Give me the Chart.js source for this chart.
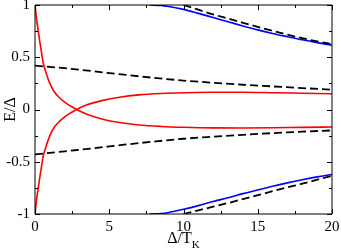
<!DOCTYPE html>
<html>
<head>
<meta charset="utf-8">
<script src="https://cdn.jsdelivr.net/npm/chart.js@4"></script>
<style>
  html, body { margin: 0; padding: 0; background: #fff; }
  #wrap { width: 341px; height: 252px; position: relative; }
</style>
</head>
<body>
<div id="wrap"><canvas id="chart" width="341" height="252"></canvas></div>
<script>
// tick labels
const xTicks = [0, 5, 10, 15, 20];
const yTicks = [-1, -0.5, 0, 0.5, 1];

// red curves (crossing near 2.8)
const redX = [0, 0.1, 0.2, 0.3, 0.4, 0.55, 0.75, 1.0, 1.3, 1.6, 2.0, 2.4, 2.8, 3.5, 4.5, 5.7, 7, 8.5, 10, 12, 14, 16, 18, 20];
const redDown = [1, 0.87, 0.77, 0.67, 0.58, 0.45, 0.35, 0.25, 0.17, 0.12, 0.07, 0.033, 0.0, -0.045, -0.09, -0.125, -0.148, -0.162, -0.17, -0.176, -0.177, -0.175, -0.171, -0.168];
const redUp = [-1, -0.87, -0.77, -0.67, -0.58, -0.45, -0.35, -0.25, -0.17, -0.12, -0.07, -0.033, 0.0, 0.045, 0.085, 0.118, 0.14, 0.153, 0.16, 0.165, 0.165, 0.161, 0.156, 0.151];

// inner dashed lines
const dashX = [0, 2, 4, 6, 8, 10, 12, 14, 16, 18, 20];
const dashUpper = [0.42, 0.395, 0.365, 0.333, 0.303, 0.277, 0.256, 0.237, 0.221, 0.205, 0.19];
const dashLower = [-0.43, -0.4, -0.37, -0.337, -0.307, -0.28, -0.26, -0.242, -0.226, -0.212, -0.2];

// blue curves
const blueX = [7.7, 8.5, 9, 10, 11, 12, 13, 14, 15, 16, 17, 18, 19, 20];
const blueUpper = [1.0, 0.995, 0.985, 0.958, 0.92, 0.88, 0.84, 0.8, 0.762, 0.728, 0.697, 0.667, 0.64, 0.615];
const blueLower = [-1.0, -0.995, -0.985, -0.955, -0.92, -0.88, -0.845, -0.805, -0.77, -0.735, -0.702, -0.672, -0.645, -0.622];

// outer dashed lines
const outerX = [10, 11, 12, 13, 14, 15, 16, 17, 18, 19, 20];
const outerUpper = [1.0, 0.955, 0.91, 0.87, 0.83, 0.79, 0.752, 0.716, 0.682, 0.652, 0.625];
const outerLower = [-1.0, -0.965, -0.93, -0.895, -0.858, -0.82, -0.782, -0.745, -0.71, -0.672, -0.635];

function pts(xs, ys) {
    return xs.map((x, i) => ({ x: x, y: ys[i] }));
}

function solid(xs, ys, color) {
    return {
        data: pts(xs, ys), borderColor: color, borderWidth: 1.6,
        pointRadius: 0, showLine: true, fill: false, cubicInterpolationMode: 'monotone'
    };
}

function dashed(xs, ys) {
    return {
        data: pts(xs, ys), borderColor: '#000', borderWidth: 1.8, borderDash: [8, 4],
        pointRadius: 0, showLine: true, fill: false, cubicInterpolationMode: 'monotone'
    };
}

const serif = '"Liberation Serif", "DejaVu Serif", serif';

// frame, inward ticks and axis titles
const framePlugin = {
    id: 'frame',
    afterDraw(chart) {
        const ctx = chart.ctx;
        const a = chart.chartArea;
        const xs = chart.scales.x, ys = chart.scales.y;
        ctx.save();
        ctx.strokeStyle = '#000';
        ctx.lineWidth = 1;
        ctx.beginPath();
        ctx.rect(a.left, a.top, a.right - a.left, a.bottom - a.top);
        ctx.stroke();

        ctx.beginPath();
        for (let v = 0; v <= 20; v += 2.5) {
            const px = Math.round(xs.getPixelForValue(v)) + 0.5;
            const len = (v % 5 === 0) ? 5 : 3;
            ctx.moveTo(px, a.bottom); ctx.lineTo(px, a.bottom - len);
            ctx.moveTo(px, a.top); ctx.lineTo(px, a.top + len);
        }
        for (let v = -1; v <= 1; v += 0.25) {
            const py = Math.round(ys.getPixelForValue(v)) + 0.5;
            const len = (Math.abs(v * 2 - Math.round(v * 2)) < 1e-9) ? 5 : 3;
            ctx.moveTo(a.left, py); ctx.lineTo(a.left + len, py);
            ctx.moveTo(a.right, py); ctx.lineTo(a.right - len, py);
        }
        ctx.stroke();

        ctx.fillStyle = '#000';
        ctx.textBaseline = 'alphabetic';
        // x title with subscript
        ctx.font = '16px ' + serif;
        const main = 'Δ/T';
        const wMain = ctx.measureText(main).width;
        ctx.font = '11px ' + serif;
        const wSub = ctx.measureText('K').width;
        const x0 = (a.left + a.right) / 2 - (wMain + wSub) / 2;
        ctx.font = '16px ' + serif;
        ctx.fillText(main, x0, 243);
        ctx.font = '11px ' + serif;
        ctx.fillText('K', x0 + wMain, 248);

        // y title rotated
        ctx.translate(15, (a.top + a.bottom) / 2);
        ctx.rotate(-Math.PI / 2);
        ctx.font = '16px ' + serif;
        ctx.textAlign = 'center';
        ctx.fillText('E/Δ', 0, 0);
        ctx.restore();
    }
};

const ctx = document.getElementById('chart').getContext('2d');
new Chart(ctx, {
    type: 'scatter',
    data: {
        datasets: [
            dashed(dashX, dashUpper),
            dashed(dashX, dashLower),
            dashed(outerX, outerUpper),
            dashed(outerX, outerLower),
            solid(blueX, blueUpper, '#0000ff'),
            solid(blueX, blueLower, '#0000ff'),
            solid(redX, redDown, '#ff0000'),
            solid(redX, redUp, '#ff0000')
        ]
    },
    options: {
        responsive: false,
        animation: false,
        layout: { padding: { top: 5, right: 9, left: 0, bottom: 0 } },
        plugins: { legend: { display: false }, tooltip: { enabled: false } },
        scales: {
            x: {
                type: 'linear', min: 0, max: 20,
                grid: { display: false, drawTicks: false },
                border: { display: false },
                ticks: {
                    stepSize: 2.5, autoSkip: false, maxRotation: 0, padding: 4,
                    color: '#000', font: { family: serif, size: 15 },
                    callback: v => xTicks.includes(v) ? String(v) : ''
                },
                afterFit: s => { s.height = 38; s.paddingLeft = 0; s.paddingRight = 0; }
            },
            y: {
                type: 'linear', min: -1, max: 1,
                grid: { display: false, drawTicks: false },
                border: { display: false },
                ticks: {
                    stepSize: 0.25, autoSkip: false, padding: 5,
                    color: '#000', font: { family: serif, size: 15 },
                    callback: v => yTicks.includes(v) ? String(v) : ''
                },
                afterFit: s => { s.width = 35; s.paddingTop = 0; s.paddingBottom = 0; }
            }
        }
    },
    plugins: [framePlugin]
});
</script>
</body>
</html>
